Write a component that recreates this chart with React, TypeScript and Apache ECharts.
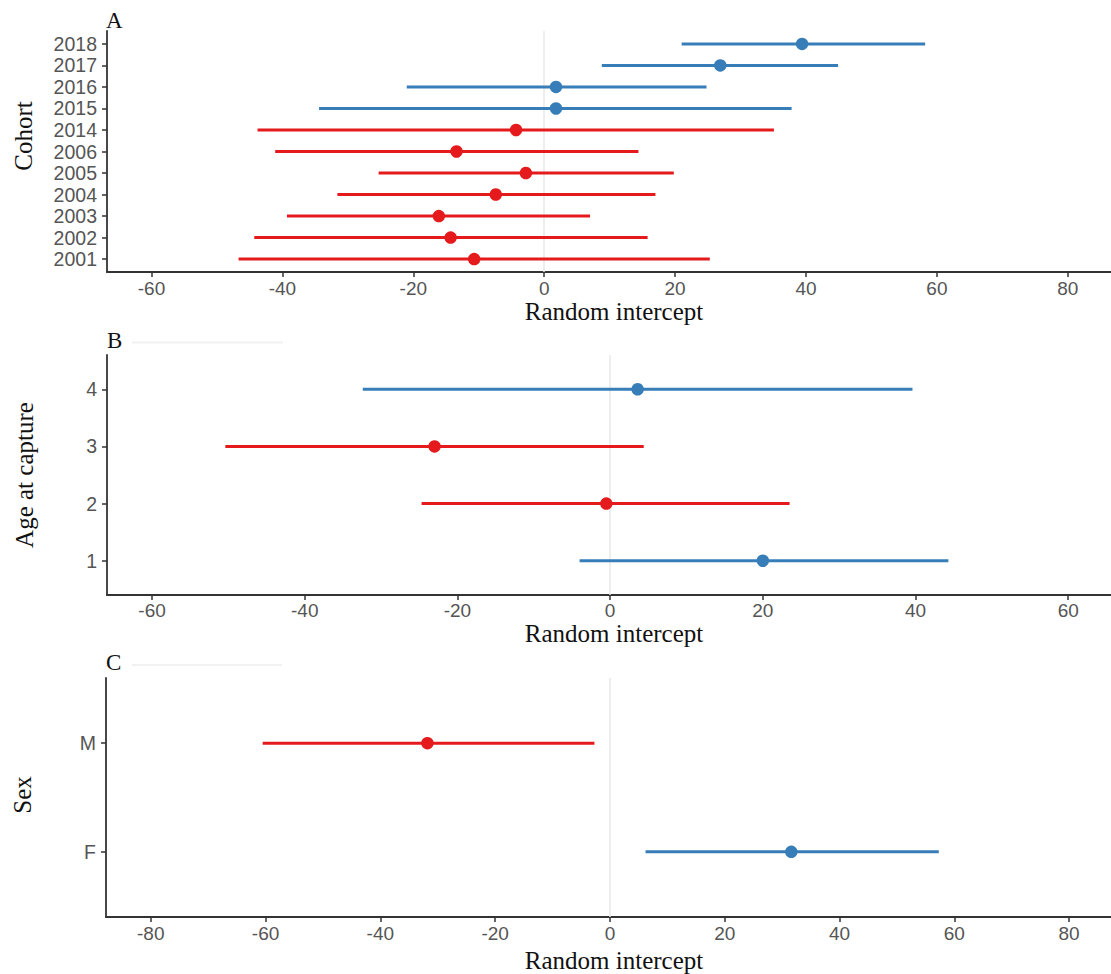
import React, { useEffect, useRef } from "react";
import * as echarts from "echarts";

// Panel A: cohort
const cohortCategories = ["2001", "2002", "2003", "2004", "2005", "2006", "2014", "2015", "2016", "2017", "2018"];
const cohortEstimate = [-10.7, -14.3, -16.1, -7.4, -2.8, -13.4, -4.3, 1.8, 1.8, 26.9, 39.4];
const cohortLower = [-46.7, -44.3, -39.3, -31.6, -25.3, -41.1, -43.8, -34.4, -21.0, 8.8, 21.0];
const cohortUpper = [25.3, 15.8, 7.0, 17.0, 19.8, 14.4, 35.1, 37.8, 24.8, 44.9, 58.2];
const cohortTicks = [-60, -40, -20, 0, 20, 40, 60, 80];

// Panel B: age at capture
const ageCategories = ["1", "2", "3", "4"];
const ageEstimate = [20.0, -0.5, -23.0, 3.6];
const ageLower = [-4.0, -24.7, -50.4, -32.4];
const ageUpper = [44.3, 23.5, 4.4, 39.6];
const ageTicks = [-60, -40, -20, 0, 20, 40, 60];

// Panel C: sex
const sexCategories = ["F", "M"];
const sexEstimate = [31.6, -31.8];
const sexLower = [6.2, -60.5];
const sexUpper = [57.3, -2.7];
const sexTicks = [-80, -60, -40, -20, 0, 20, 40, 60, 80];

const RED = "#E41A1C";
const BLUE = "#377EB8";
const AXIS = "#333333";
const LABEL = "#555555";
const SANS = '"Liberation Sans", Arial, sans-serif';
const SERIF = '"Liberation Serif", "Times New Roman", serif';

const panels = [
  { cats: cohortCategories, est: cohortEstimate, lo: cohortLower, hi: cohortUpper, ticks: cohortTicks,
    grid: { left: 107, top: 31, width: 1004, height: 241 }, xmin: -66.8, xmax: 86.6, labelMargin: 9 },
  { cats: ageCategories, est: ageEstimate, lo: ageLower, hi: ageUpper, ticks: ageTicks,
    grid: { left: 107, top: 355, width: 1004, height: 240 }, xmin: -65.9, xmax: 65.6, labelMargin: 8 },
  { cats: sexCategories, est: sexEstimate, lo: sexLower, hi: sexUpper, ticks: sexTicks,
    grid: { left: 106, top: 678, width: 1005, height: 239 }, xmin: -87.8, xmax: 87.3, labelMargin: 9 },
];

function buildOption() {
  const grid: any[] = [];
  const xAxis: any[] = [];
  const yAxis: any[] = [];
  const series: any[] = [];
  panels.forEach((p, i) => {
    grid.push({ ...p.grid, containLabel: false });
    const positions = p.cats.map((_, k) => k + 1);
    xAxis.push({
      type: "value",
      gridIndex: i,
      min: p.xmin,
      max: p.xmax,
      axisLine: { show: true, onZero: false, lineStyle: { color: AXIS, width: 1.8 } },
      axisTick: { show: true, length: 5, customValues: p.ticks, lineStyle: { color: AXIS, width: 1.5 } },
      axisLabel: {
        show: true, customValues: p.ticks, margin: p.labelMargin, color: LABEL,
        fontSize: 19, fontFamily: SANS, lineHeight: 15,
      },
      splitLine: { show: false },
    });
    yAxis.push({
      type: "value",
      gridIndex: i,
      min: 0.4,
      max: p.cats.length + 0.6,
      axisLine: { show: true, onZero: false, lineStyle: { color: AXIS, width: 1.8 } },
      axisTick: { show: true, length: 5, customValues: positions, lineStyle: { color: AXIS, width: 1.5 } },
      axisLabel: {
        show: true,
        customValues: positions,
        margin: 10,
        color: LABEL,
        fontSize: 19.5,
        fontFamily: SANS,
        lineHeight: 18,
        formatter: (v: number) => p.cats[Math.round(v) - 1] ?? "",
      },
      splitLine: { show: false },
    });
    series.push({
      type: "custom",
      xAxisIndex: i,
      yAxisIndex: i,
      z: 3,
      data: p.cats.map((_, k) => [p.lo[k], p.hi[k], k + 1, p.est[k]]),
      encode: { x: [0, 1], y: 2 },
      renderItem: (params: any, api: any) => {
        const a = api.coord([api.value(0), api.value(2)]);
        const b = api.coord([api.value(1), api.value(2)]);
        return {
          type: "line",
          shape: { x1: a[0], y1: a[1], x2: b[0], y2: b[1] },
          style: { stroke: api.value(3) < 0 ? RED : BLUE, lineWidth: 3 },
        };
      },
      markLine: {
        silent: true,
        z: 1,
        symbol: "none",
        label: { show: false },
        lineStyle: { color: "#e8e8e8", width: 1.5, type: "solid" },
        data: [{ xAxis: 0 }],
      },
    });
    series.push({
      type: "scatter",
      xAxisIndex: i,
      yAxisIndex: i,
      z: 4,
      symbol: "circle",
      symbolSize: 12.5,
      data: p.cats.map((_, k) => [p.est[k], k + 1]),
      itemStyle: { color: (d: any) => (d.value[0] < 0 ? RED : BLUE), opacity: 1 },
    });
  });

  const serifText = (text: string, size: number, x: number, y: number, align: string, rotation = 0) => ({
    type: "text",
    x,
    y,
    rotation,
    style: {
      text,
      fontSize: size,
      fontFamily: SERIF,
      lineHeight: size * 0.8,
      fill: "#111111",
      align,
      verticalAlign: "middle",
    },
  });

  const graphic: any[] = [
    serifText("A", 23, 106, 20, "left"),
    serifText("B", 23, 107, 340, "left"),
    serifText("C", 23, 106, 662, "left"),
    { type: "line", shape: { x1: 132, y1: 342.5, x2: 283, y2: 342.5 }, style: { stroke: "#f1f1f1", lineWidth: 2 } },
    { type: "line", shape: { x1: 132, y1: 665, x2: 282, y2: 665 }, style: { stroke: "#f1f1f1", lineWidth: 2 } },
    serifText("Random intercept", 25, 614, 311, "center"),
    serifText("Random intercept", 25, 614, 633, "center"),
    serifText("Random intercept", 25, 614, 960, "center"),
    serifText("Cohort", 25, 23, 136, "center", Math.PI / 2),
    serifText("Age at capture", 25, 24, 475, "center", Math.PI / 2),
    serifText("Sex", 25, 22, 795, "center", Math.PI / 2),
  ];

  return {
    animation: false,
    backgroundColor: "#ffffff",
    grid,
    xAxis,
    yAxis,
    series,
    graphic,
  };
}

export default function App() {
  const ref = useRef<HTMLDivElement>(null);
  useEffect(() => {
    if (!ref.current) return;
    const chart = echarts.init(ref.current, undefined, { renderer: "svg" });
    chart.setOption(buildOption() as any);
    return () => chart.dispose();
  }, []);
  return (
    <div
      ref={ref}
      style={{ position: "absolute", left: 0, top: 0, width: 1111, height: 974, background: "#fff" }}
    />
  );
}
